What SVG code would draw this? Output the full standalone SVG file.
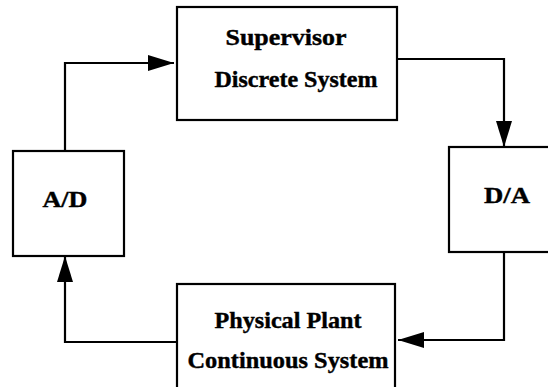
<svg xmlns="http://www.w3.org/2000/svg" width="548" height="387" viewBox="0 0 548 387">
<style>
.box{fill:#fff;stroke:#000;stroke-width:2.2}
.lbl{font-family:"Liberation Serif","Times New Roman",serif;font-weight:bold;font-size:23px;fill:#000;text-anchor:middle;stroke:#000;stroke-width:0.4}
.wire{fill:none;stroke:#000;stroke-width:2.2}
</style>
<defs>
<marker id="ah" markerUnits="userSpaceOnUse" markerWidth="28" markerHeight="18" refX="26" refY="9" orient="auto">
<path d="M0,1 L26,9 L0,17 Z" fill="#000"/>
</marker>
</defs>
<rect width="548" height="387" fill="#fff"/>
<g id="connectors">
<path class="wire" d="M65,151 V63 H174" marker-end="url(#ah)"/>
<path class="wire" d="M397,59 H504 V147" marker-end="url(#ah)"/>
<path class="wire" d="M504,252 V340 H398" marker-end="url(#ah)"/>
<path class="wire" d="M177,342 H65 V256" marker-end="url(#ah)"/>
</g>
<g id="supervisor">
<rect class="box" x="177" y="7" width="220" height="113"/>
<text class="lbl" x="286" y="45" textLength="121" lengthAdjust="spacingAndGlyphs">Supervisor</text>
<text class="lbl" x="296" y="87" textLength="163" lengthAdjust="spacingAndGlyphs">Discrete System</text>
</g>
<g id="ad">
<rect class="box" x="13" y="151" width="111" height="105"/>
<text class="lbl" x="65" y="207" textLength="45" lengthAdjust="spacingAndGlyphs">A/D</text>
</g>
<g id="da">
<rect class="box" x="449" y="147" width="110" height="105"/>
<text class="lbl" x="507" y="203" textLength="46" lengthAdjust="spacingAndGlyphs">D/A</text>
</g>
<g id="plant">
<rect class="box" x="177" y="284" width="218" height="112"/>
<text class="lbl" x="288" y="328" textLength="147" lengthAdjust="spacingAndGlyphs">Physical Plant</text>
<text class="lbl" x="288" y="368" textLength="201" lengthAdjust="spacingAndGlyphs">Continuous System</text>
</g>
</svg>
